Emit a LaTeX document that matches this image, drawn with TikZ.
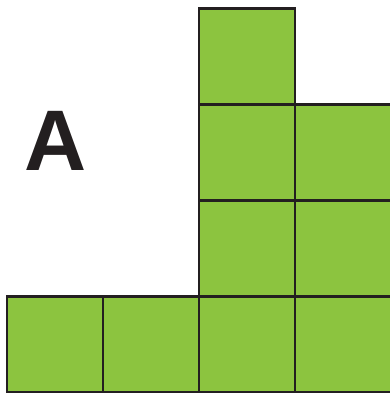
\documentclass[tikz,border=0pt]{standalone}
\usepackage{fontspec}
\setmainfont{Liberation Sans}
\definecolor{cellgreen}{HTML}{8CC43F}
\definecolor{edge}{HTML}{231F20}
\begin{document}
\begin{tikzpicture}[x=1pt,y=-1pt,
  cell/.style={draw=edge,fill=cellgreen,line width=2.6pt,minimum width=96pt,minimum height=96pt,inner sep=0pt,outer sep=0pt,anchor=north west},
  widecell/.style={cell,minimum width=100pt},
  letter/.style={text=edge,font=\fontsize{86}{86}\selectfont\bfseries,inner sep=0pt}]
\useasboundingbox (0,0) rectangle (390,393);
\node[cell] (top) at (199,8.5) {};
\node[cell] (m1) at (199,104.5) {};
\node[widecell] (m2) at (295,104.5) {};
\node[cell] (l1) at (199,200.5) {};
\node[widecell] (l2) at (295,200.5) {};
\node[cell] (b1) at (7,296.5) {};
\node[cell] (b2) at (103,296.5) {};
\node[cell] (b3) at (199,296.5) {};
\node[widecell] (b4) at (295,296.5) {};
\node[letter,anchor=base] (A) at (56,170) {A};
\end{tikzpicture}
\end{document}
